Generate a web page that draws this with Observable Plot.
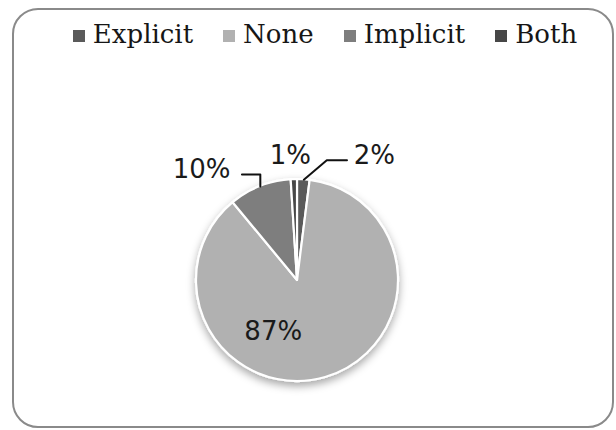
<!DOCTYPE html>
<html>
<head>
<meta charset="utf-8">
<script src="https://cdn.jsdelivr.net/npm/d3@7"></script>
<script src="https://cdn.jsdelivr.net/npm/@observablehq/plot@0.6"></script>
<style>
  html, body { margin: 0; padding: 0; background: #fff; width: 616px; height: 430px; overflow: hidden; }
  #frame { position: absolute; left: 12px; top: 8px; width: 602px; height: 420px;
           border: 2px solid #8a8a8a; border-radius: 26px; box-sizing: border-box; }
  #legend { position: absolute; left: 0; top: 19px; width: 650px; display: flex; justify-content: center;
            gap: 30px; font-family: "DejaVu Serif", serif; font-size: 26px; color: #161616; line-height: 30px; }
  #legend .item { display: flex; align-items: center; gap: 8px; }
  #legend .sw { width: 12px; height: 12px; display: inline-block; margin-top: 3px; }
  #chart { position: absolute; left: 0; top: 0; }
</style>
</head>
<body>
<div id="frame"></div>
<div id="chart"></div>
<div id="legend"></div>
<script>
// ---- data ----
const categories = ["Explicit", "None", "Implicit", "Both"];
const shares = [2, 87, 10, 1];
const labelTexts = ["2%", "87%", "10%", "1%"];
const colors = ["#5a5a5a", "#b1b1b1", "#7e7e7e", "#474747"];

// ---- label placement (in units of the pie radius) ----
const labelAt = {
  Explicit: [0.76, 1.24],
  None: [-0.24, -0.51],
  Implicit: [-0.95, 1.10],
  Both: [-0.07, 1.24]
};
// leader lines: from slice edge via elbow to end
const leaders = {
  Explicit: {elbow: [0.29, 1.19], end: [0.49, 1.19]},
  Implicit: {elbow: null, elbowY: 1.05, end: [-0.55, 1.05]}
};

const rows = categories.map((c, i) => ({category: c, value: shares[i], label: labelTexts[i], color: colors[i]}));
const arcs = d3.pie().sort(null).value(d => d.value)(rows);

// edge point at mid-angle (d3 angles: clockwise from 12 o'clock)
const edge = a => {
  const m = (a.startAngle + a.endAngle) / 2;
  return [Math.sin(m), Math.cos(m)];
};

const labelRows = arcs.map(a => ({label: a.data.label, x: labelAt[a.data.category][0], y: labelAt[a.data.category][1]}));

const leaderPts = [];
arcs.forEach(a => {
  const L = leaders[a.data.category];
  if (!L) return;
  const [ex, ey] = edge(a);
  const elbow = L.elbow ? L.elbow : [ex, L.elbowY];
  [[ex, ey], elbow, L.end].forEach(p => leaderPts.push({k: a.data.category, x: p[0], y: p[1]}));
});

function pieMark(index, scales) {
  const cx = scales.x(0), cy = scales.y(0);
  const r = scales.x(1) - scales.x(0);
  const g = d3.create("svg:g");
  const defs = g.append("defs");
  const f = defs.append("filter").attr("id", "pieShadow").attr("x", "-20%").attr("y", "-20%").attr("width", "140%").attr("height", "150%");
  f.append("feDropShadow").attr("dx", 0).attr("dy", 4).attr("stdDeviation", 4).attr("flood-color", "#000").attr("flood-opacity", 0.35);
  const arc = d3.arc().innerRadius(0).outerRadius(r);
  const pg = g.append("g").attr("transform", `translate(${cx},${cy})`).attr("filter", "url(#pieShadow)");
  pg.selectAll("path").data(arcs).join("path")
    .attr("d", arc)
    .attr("fill", d => d.data.color)
    .attr("stroke", "#fff")
    .attr("stroke-width", 2.2)
    .attr("stroke-linejoin", "round");
  return g.node();
}

const plot = Plot.plot({
  width: 616,
  height: 430,
  margin: 0,
  x: {domain: [-1, 1], range: [196, 398], axis: null},
  y: {domain: [-1, 1], range: [381, 179], axis: null},
  marks: [
    pieMark,
    Plot.line(leaderPts, {x: "x", y: "y", z: "k", stroke: "#111", strokeWidth: 2, curve: "linear"}),
    Plot.text(labelRows, {x: "x", y: "y", text: "label", fontSize: 26, fontFamily: "DejaVu Sans", fill: "#1a1a1a"})
  ]
});
document.getElementById("chart").appendChild(plot);

// legend
const legend = d3.select("#legend");
rows.forEach(r => {
  const it = legend.append("div").attr("class", "item");
  it.append("span").attr("class", "sw").style("background", r.color);
  it.append("span").text(r.category);
});
</script>
</body>
</html>
